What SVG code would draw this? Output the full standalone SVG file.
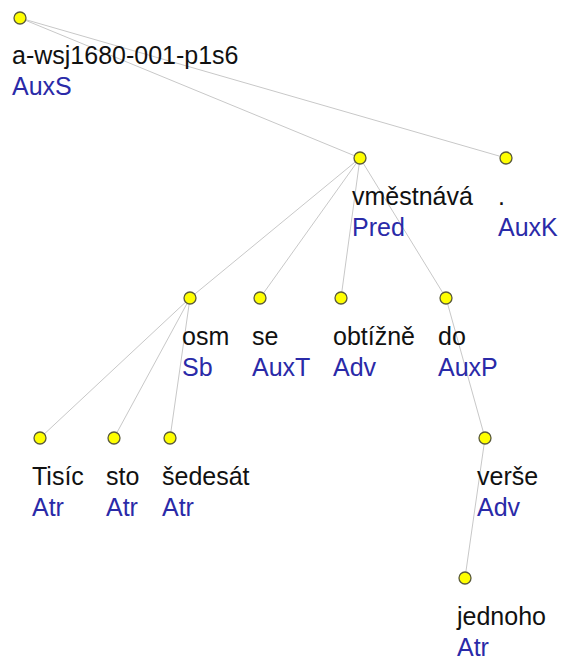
<svg xmlns="http://www.w3.org/2000/svg" width="563" height="661" viewBox="0 0 563 661">
<style>
.e{stroke:#c8c8c8;stroke-width:1;fill:none}
.n{fill:#ffff00;stroke:#5a5a3a;stroke-width:1.3}
text{font-family:"Liberation Sans",Arial,sans-serif;font-size:25px}
.w{fill:#111}
.t{fill:#2a2aa8}
</style>
<rect width="563" height="661" fill="#fff"/>
<g id="edges">
<line class="e" x1="20" y1="18" x2="360" y2="158"/>
<line class="e" x1="20" y1="18" x2="506" y2="158"/>
<line class="e" x1="360" y1="158" x2="190" y2="298"/>
<line class="e" x1="360" y1="158" x2="260" y2="298"/>
<line class="e" x1="360" y1="158" x2="341" y2="298"/>
<line class="e" x1="360" y1="158" x2="446" y2="298"/>
<line class="e" x1="190" y1="298" x2="40" y2="438"/>
<line class="e" x1="190" y1="298" x2="114" y2="438"/>
<line class="e" x1="190" y1="298" x2="170" y2="438"/>
<line class="e" x1="446" y1="298" x2="485" y2="438"/>
<line class="e" x1="485" y1="438" x2="465" y2="578"/>
</g>
<g id="root"><circle class="n" cx="20" cy="18" r="6"/><text class="w" x="12" y="64">a-wsj1680-001-p1s6</text><text class="t" x="12" y="95">AuxS</text></g>
<g id="vmestnava"><circle class="n" cx="360" cy="158" r="6"/><text class="w" x="352" y="205">vměstnává</text><text class="t" x="352" y="236">Pred</text></g>
<g id="dot"><circle class="n" cx="506" cy="158" r="6"/><text class="w" x="498" y="205">.</text><text class="t" x="498" y="236">AuxK</text></g>
<g id="osm"><circle class="n" cx="190" cy="298" r="6"/><text class="w" x="182" y="345">osm</text><text class="t" x="182" y="376">Sb</text></g>
<g id="se"><circle class="n" cx="260" cy="298" r="6"/><text class="w" x="252" y="345">se</text><text class="t" x="252" y="376">AuxT</text></g>
<g id="obtizne"><circle class="n" cx="341" cy="298" r="6"/><text class="w" x="333" y="345">obtížně</text><text class="t" x="333" y="376">Adv</text></g>
<g id="do"><circle class="n" cx="446" cy="298" r="6"/><text class="w" x="438" y="345">do</text><text class="t" x="438" y="376">AuxP</text></g>
<g id="tisic"><circle class="n" cx="40" cy="438" r="6"/><text class="w" x="32" y="485">Tisíc</text><text class="t" x="32" y="516">Atr</text></g>
<g id="sto"><circle class="n" cx="114" cy="438" r="6"/><text class="w" x="106" y="485">sto</text><text class="t" x="106" y="516">Atr</text></g>
<g id="sedesat"><circle class="n" cx="170" cy="438" r="6"/><text class="w" x="162" y="485">šedesát</text><text class="t" x="162" y="516">Atr</text></g>
<g id="verse"><circle class="n" cx="485" cy="438" r="6"/><text class="w" x="477" y="485">verše</text><text class="t" x="477" y="516">Adv</text></g>
<g id="jednoho"><circle class="n" cx="465" cy="578" r="6"/><text class="w" x="457" y="625">jednoho</text><text class="t" x="457" y="656">Atr</text></g>
</svg>
